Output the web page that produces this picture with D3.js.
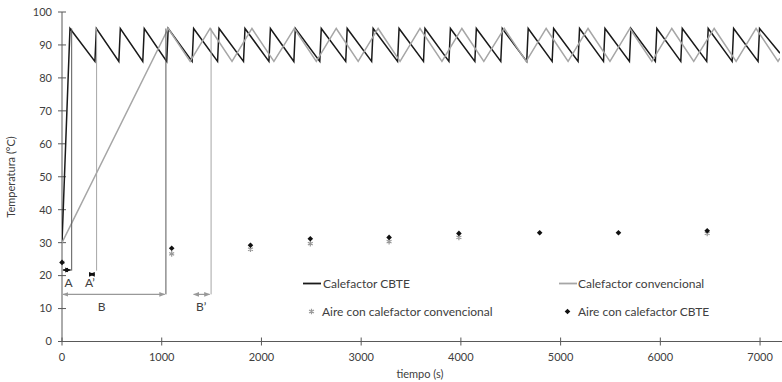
<!DOCTYPE html>
<html>
<head>
<meta charset="utf-8">
<script src="https://cdn.jsdelivr.net/npm/d3@7"></script>
<style>
  body { margin: 0; background: #fff; }
  text { font-family: Lato, "Open Sans", sans-serif; }
</style>
</head>
<body>
<div id="chart"></div>
<script>
// Calefactor CBTE: tiempo (s) y temperatura (°C)
const cbteTime = [0, 80,
  330, 345, 570, 585, 810, 825, 1050, 1065, 1305, 1320, 1560, 1575,
  1820, 1835, 2075, 2090, 2325, 2340, 2585, 2600, 2845, 2860, 3105, 3120,
  3365, 3380, 3625, 3640, 3880, 3895, 4140, 4155, 4400, 4415, 4660, 4675,
  4915, 4930, 5175, 5190, 5430, 5445, 5690, 5705, 5950, 5965, 6205, 6220,
  6465, 6480, 6720, 6735, 6980, 6995, 7200];
const cbteTemp = [30, 95,
  85, 95, 85, 95, 85, 95, 85, 95, 85, 95, 85, 95,
  85, 95, 85, 95, 85, 95, 85, 95, 85, 95, 85, 95,
  85, 95, 85, 95, 85, 95, 85, 95, 85, 95, 85, 95,
  85, 95, 85, 95, 85, 95, 85, 95, 85, 95, 85, 95,
  85, 95, 85, 95, 85, 95, 87.5];

// Calefactor convencional
const convTime = [0, 1065,
  1285, 1485, 1705, 1905, 2125, 2330, 2550, 2750, 2970, 3170, 3390, 3590,
  3810, 4010, 4230, 4435, 4655, 4855, 5075, 5275, 5495, 5695, 5915, 6115,
  6335, 6540, 6760, 6960, 7180, 7200];
const convTemp = [30, 95,
  85, 95, 85, 95, 85, 95, 85, 95, 85, 95, 85, 95,
  85, 95, 85, 95, 85, 95, 85, 95, 85, 95, 85, 95,
  85, 95, 85, 95, 85, 86];

// temperatura del aire
const aireConvTime = [0, 1100, 1890, 2490, 3280, 3980, 6470];
const aireConvTemp = [24, 26.6, 28, 29.7, 30.3, 31.6, 32.8];
const aireCbteTime = [0, 1100, 1890, 2490, 3280, 3980, 4790, 5580, 6470];
const aireCbteTemp = [24, 28.3, 29.2, 31.2, 31.6, 32.8, 33, 33, 33.6];

// anotaciones: etiqueta, inicio, fin (s), altura (°C), linea vertical
const notes = [
  {name: "A",  t0: 0,    t1: 97,   y: 21.7, vline: 97,   vlow: 21.5, dark: true,  ly: 17.8, lt: 67},
  {name: "A\u2019", t0: 265, t1: 335, y: 20.4, vline: 347, vlow: 21.5, dark: true, ly: 17.8, lt: 280, lineDark: false},
  {name: "B",  t0: 0,    t1: 1040, y: 14.3, vline: 1042, vlow: 14.3, dark: false, ly: 10.5, lt: 398, lineDark: true},
  {name: "B\u2019", t0: 1310, t1: 1490, y: 14.3, vline: 1495, vlow: 14.3, dark: false, ly: 10.5, lt: 1395, lineDark: false}
];

const xTicks = [0, 1000, 2000, 3000, 4000, 5000, 6000, 7000];
const yTicks = [0, 10, 20, 30, 40, 50, 60, 70, 80, 90, 100];

let width = 782, height = 382;
let margin = {top: 12, left: 62, right: 2, bottom: 40.5};

let svg = d3.select("#chart").append("svg")
  .attr("width", width).attr("height", height);

let x = d3.scaleLinear().domain([0, 7200]).range([margin.left, width - margin.right]);
let y = d3.scaleLinear().domain([0, 100]).range([height - margin.bottom, margin.top]);

svg.append("defs").append("clipPath").attr("id", "plot")
  .append("rect")
  .attr("x", margin.left).attr("y", 0)
  .attr("width", width - margin.left - margin.right).attr("height", height);

// arrowheads
function marker(id, color) {
  svg.select("defs").append("marker")
    .attr("id", id).attr("viewBox", "0 0 10 10")
    .attr("refX", 9).attr("refY", 5)
    .attr("markerWidth", 5).attr("markerHeight", 5)
    .attr("orient", "auto-start-reverse")
    .append("path").attr("d", "M0,1 L10,5 L0,9 Z").attr("fill", color);
}
marker("arrBlack", "#111");
marker("arrGray", "#999");

// axes
const axisColor = "#595959";
let xAxis = svg.append("g").attr("transform", "translate(0," + y(0) + ")");
xAxis.append("line").attr("x1", margin.left).attr("x2", width).attr("stroke", axisColor);
xAxis.selectAll(".tk").data(xTicks).join("line")
  .attr("x1", d => x(d)).attr("x2", d => x(d)).attr("y1", -4).attr("y2", 4)
  .attr("stroke", axisColor);
xAxis.selectAll(".lb").data(xTicks).join("text")
  .attr("x", d => x(d)).attr("y", 19).attr("text-anchor", "middle")
  .attr("font-size", 11).attr("fill", "#404040").text(d => d);

let yAxis = svg.append("g");
yAxis.append("line").attr("x1", x(0)).attr("x2", x(0))
  .attr("y1", y(0)).attr("y2", y(100)).attr("stroke", axisColor);
yAxis.selectAll(".tk").data(yTicks).join("line")
  .attr("x1", x(0) - 4).attr("x2", x(0) + 4)
  .attr("y1", d => y(d)).attr("y2", d => y(d)).attr("stroke", axisColor);
yAxis.selectAll(".lb").data(yTicks).join("text")
  .attr("x", x(0) - 10).attr("y", d => y(d)).attr("dy", "0.35em")
  .attr("text-anchor", "end").attr("font-size", 11).attr("fill", "#404040").text(d => d);

svg.append("text").attr("x", 420).attr("y", 378).attr("text-anchor", "middle")
  .attr("font-size", 11).attr("fill", "#404040").text("tiempo (s)");
svg.append("text").attr("transform", "translate(15," + 177 + ") rotate(-90)")
  .attr("text-anchor", "middle").attr("font-size", 11).attr("fill", "#404040")
  .text("Temperatura (°C)");

// series
let line = d3.line().x(d => x(d[0])).y(d => y(d[1]));
let plot = svg.append("g").attr("clip-path", "url(#plot)");

plot.append("path").datum(cbteTime.map((t, i) => [t, cbteTemp[i]]))
  .attr("d", line).attr("fill", "none").attr("stroke", "#1a1a1a").attr("stroke-width", 1.5);
plot.append("path").datum(convTime.map((t, i) => [t, convTemp[i]]))
  .attr("d", line).attr("fill", "none").attr("stroke", "#a6a6a6").attr("stroke-width", 1.5);

// annotations
notes.forEach(n => {
  let vDark = n.lineDark !== undefined ? n.lineDark : n.dark;
  plot.append("line")
    .attr("x1", x(n.vline)).attr("x2", x(n.vline))
    .attr("y1", y(95)).attr("y2", y(n.vlow))
    .attr("stroke", vDark ? "#595959" : "#a6a6a6").attr("stroke-width", 1);
  svg.append("line")
    .attr("x1", x(n.t0) + 1).attr("x2", x(n.t1) - 1)
    .attr("y1", y(n.y)).attr("y2", y(n.y))
    .attr("stroke", n.dark ? "#111" : "#999").attr("stroke-width", 1.2)
    .attr("marker-start", n.dark ? "url(#arrBlack)" : "url(#arrGray)")
    .attr("marker-end", n.dark ? "url(#arrBlack)" : "url(#arrGray)");
  svg.append("text").attr("x", x(n.lt)).attr("y", y(n.ly)).attr("dy", "0.35em")
    .attr("text-anchor", "middle").attr("font-size", 12).attr("fill", "#404040").text(n.name);
});

// air temperature markers
let star = d3.symbol().type(d3.symbolAsterisk).size(22);
let diamond = d3.symbol().type(d3.symbolDiamond2).size(20);

plot.selectAll(".conv").data(aireConvTime).join("path")
  .attr("transform", (t, i) => "translate(" + x(t) + "," + y(aireConvTemp[i]) + ")")
  .attr("d", star).attr("fill", "none").attr("stroke", "#999").attr("stroke-width", 1.2);
svg.selectAll(".cbte").data(aireCbteTime).join("path")
  .attr("transform", (t, i) => "translate(" + x(t) + "," + y(aireCbteTemp[i]) + ")")
  .attr("d", diamond).attr("fill", "#111");

// legend
let legend = svg.append("g").attr("font-size", 12).attr("fill", "#404040");
legend.append("line").attr("x1", 303).attr("x2", 321).attr("y1", 283.5).attr("y2", 283.5)
  .attr("stroke", "#1a1a1a").attr("stroke-width", 1.8);
legend.append("text").attr("x", 323).attr("y", 283.5).attr("dy", "0.35em").text("Calefactor CBTE");
legend.append("line").attr("x1", 559).attr("x2", 577).attr("y1", 283.5).attr("y2", 283.5)
  .attr("stroke", "#a6a6a6").attr("stroke-width", 1.8);
legend.append("text").attr("x", 578).attr("y", 283.5).attr("dy", "0.35em").text("Calefactor convencional");
legend.append("path").attr("transform", "translate(311.5,311.5)")
  .attr("d", star).attr("fill", "none").attr("stroke", "#999").attr("stroke-width", 1.2);
legend.append("text").attr("x", 322).attr("y", 311.5).attr("dy", "0.35em").text("Aire con calefactor convencional");
legend.append("path").attr("transform", "translate(567.5,311.5)")
  .attr("d", diamond).attr("fill", "#111");
legend.append("text").attr("x", 578).attr("y", 311.5).attr("dy", "0.35em").text("Aire con calefactor CBTE");
</script>
</body>
</html>
